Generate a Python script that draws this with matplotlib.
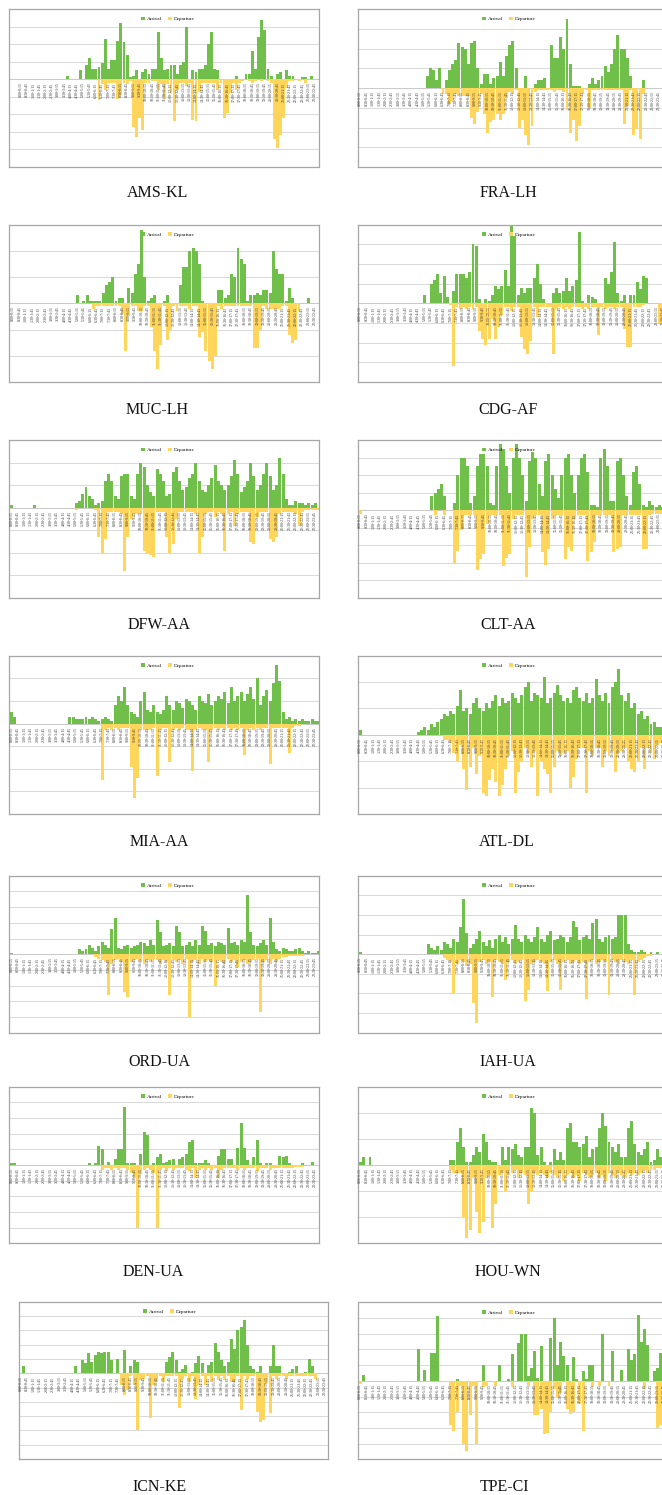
import numpy as np
import matplotlib
matplotlib.use("Agg")
import matplotlib.pyplot as plt
from matplotlib.patches import Patch

FIG_W, FIG_H = 662, 1495
GREEN = "#70BF4A"
YELLOW = "#FFD55C"
SERIF = ["Liberation Serif", "DejaVu Serif"]

# 15-minute slot labels, 0:00-0:15 ... 23:45-24:00
slot_labels = []
for k in range(96):
    h0, m0 = divmod(15 * k, 60)
    h1, m1 = divmod(15 * k + 15, 60)
    slot_labels.append(f"{h0}:{m0:02d}-{h1}:{m1:02d}")

# Flights per 15-minute slot (10 = one gridline step)
ams_arr = [0,0,0,0,0,0,0,0,0,0,0,0,0,0,0,2,0,0,0,5,0,8,12,6,
           6,7,9,23,6,11,11,22,32,21,14,1,2,5,0,4,6,3,6,6,27,12,5,6,
           8,8,3,8,10,30,0,5,4,6,6,8,20,27,6,5,0,0,0,0,0,2,0,0,
           3,3,16,6,24,34,28,6,2,0,3,4,0,5,2,2,0,0,1,1,0,2,0,0]
ams_dep = [0]*24 + \
          [0,12,3,6,2,2,2,11,9,2,3,1,27,33,22,29,2,2,1,1,6,3,11,3,
           8,24,6,2,2,4,2,23,24,7,2,2,2,2,2,6,2,22,19,8,2,6,2,1,
           0,1,2,1,0,1,0,1,2,34,39,32,22,5,1,1,0,1,0,2,0,0,0,0]

fra_arr = [0]*21 + [6,10,9] + \
          [4,10,0,4,9,12,14,23,21,20,12,23,24,10,2,7,7,2,5,6,13,6,16,22,
           24,10,0,0,6,0,0,2,4,4,5,0,22,15,15,26,20,35,12,1,1,1,0,0,
           2,5,2,4,6,11,8,12,20,27,20,20,15,6,0,0,0,4,0,0,0,0,0,0]
fra_dep = [0]*24 + \
          [0,0,3,3,8,7,3,4,4,4,4,15,18,12,3,13,23,17,16,13,16,13,5,2,
           3,1,20,16,24,29,19,2,1,1,1,1,1,2,1,1,2,11,23,16,27,19,3,1,
           10,1,1,1,1,1,1,1,1,1,1,18,9,1,24,21,26,3,0,0,0,0,0,0]

muc_arr = [0]*20 + [3,0,1,3] + \
          [1,1,1,1,4,7,8,10,1,2,2,0,6,4,11,15,28,10,1,2,3,0,0,1,
           3,0,0,0,7,14,14,20,21,20,15,1,0,0,0,0,5,5,2,3,11,10,21,17,
           15,1,3,3,4,3,5,5,4,20,13,11,11,1,6,2,0,0,0,0,2,0,0,0]
muc_dep = [0]*24 + \
          [0,2,1,1,1,1,1,1,1,1,4,18,5,1,1,3,3,1,1,9,18,25,16,1,
           14,10,1,3,1,1,1,2,1,1,13,11,18,22,25,20,1,2,1,1,1,1,1,1,
           1,1,1,17,17,10,1,2,2,2,2,2,1,1,12,15,14,3,0,0,0,0,0,0]

cdg_arr = [0]*20 + [4,0,10,12] + \
          [15,5,14,3,0,6,15,15,15,13,16,30,29,2,0,2,1,4,9,7,9,17,9,40,
           34,4,8,5,8,8,13,20,10,2,0,0,5,8,5,6,13,6,9,12,36,1,0,4,
           3,2,0,0,13,10,16,31,5,1,4,0,4,4,11,7,14,13,0,0,0,0,0,0]
cdg_dep = [0]*24 + \
          [0,0,0,0,1,32,2,3,2,3,2,3,2,14,18,21,18,8,18,12,6,2,2,4,
           2,2,17,23,26,19,2,7,2,2,2,2,26,3,2,3,2,3,2,2,2,3,2,3,
           2,2,16,2,3,2,2,3,2,2,13,22,22,2,2,2,1,0,0,0,0,10,10,10]

dfw_arr = [1,0,0,0,0,0,0,1,0,0,0,0,0,0,0,0,0,0,0,0,2,3,6,9,
           5,4,1,2,3,12,15,12,5,4,14,15,15,5,4,15,20,18,10,7,5,17,15,12,
           5,6,16,18,12,8,9,13,15,20,12,8,7,10,13,19,12,10,8,10,14,21,15,7,
           9,12,20,14,8,10,15,20,14,8,10,22,15,4,1,1,3,2,2,1,2,1,2,0]
dfw_dep = [0]*20 + [1,0,0,0] + \
          [0,0,1,13,20,14,2,2,2,2,3,28,13,5,3,3,3,19,20,21,22,2,2,2,
           13,20,16,5,2,2,2,2,2,3,20,13,3,2,2,4,2,3,19,3,2,8,3,2,
           2,2,15,16,4,2,2,2,14,15,13,3,2,2,2,2,3,8,2,1,1,1,1,1]

clt_arr = [0]*22 + [8,10] + \
          [12,15,8,0,0,4,20,30,30,25,4,8,25,32,32,25,4,3,25,38,35,25,10,30,
           38,30,20,5,28,33,30,15,8,28,32,20,12,7,20,30,32,20,10,20,30,32,22,3,
           3,2,30,35,25,5,5,28,30,20,8,3,22,25,15,3,2,5,3,2,3,2,1,1]
clt_dep = [2] + [0]*22 + [3] + \
          [0,0,3,0,0,30,23,11,3,3,3,3,34,28,25,8,3,3,3,3,32,27,25,5,
           3,3,3,38,21,5,3,3,24,31,22,5,3,3,3,28,21,23,5,3,3,3,29,24,
           18,3,3,3,3,3,24,22,21,3,3,3,3,3,3,22,22,3,2,2,2,2,2,2]

mia_arr = [5,3,0,0,0,0,0,0,0,0,0,0,0,0,0,0,0,0,3,3,2,2,2,3,
           2,3,2,1,2,3,2,1,8,12,10,16,8,5,4,3,10,14,6,5,8,5,4,6,
           12,8,6,10,9,7,11,10,8,6,12,10,9,13,8,10,12,11,14,9,16,10,12,14,
           10,13,16,11,20,8,12,15,10,18,26,19,5,2,3,1,2,1,2,1,1,2,1,1]
mia_dep = [0]*24 + \
          [0,0,0,0,25,3,2,3,2,3,2,2,2,19,33,24,3,3,3,3,2,23,3,2,
           2,17,3,2,3,2,3,3,21,3,2,3,3,17,3,2,3,2,3,2,3,2,3,2,
           14,3,2,3,2,3,2,2,18,2,2,2,2,2,13,2,1,1,0,0,0,0,0,0]

atl_arr = [2,0,0,0,0,0,0,0,0,0,0,0,0,0,0,0,0,0,1,2,3,2,4,3,
           5,6,8,7,9,8,11,17,9,10,8,12,14,10,9,12,10,13,15,11,14,12,13,16,
           14,12,15,18,20,13,16,15,14,22,12,14,16,19,15,13,14,12,17,18,14,13,16,12,
           14,21,15,13,16,12,18,20,25,15,13,16,10,12,8,9,6,7,4,5,3,3,2,2]
atl_dep = [0]*24 + \
          [0,0,2,2,3,7,10,4,13,21,12,5,15,8,22,23,17,13,18,23,19,13,8,6,
           22,14,10,5,7,12,6,23,10,13,15,22,12,6,8,7,6,20,16,9,5,5,22,6,
           8,5,5,12,6,8,6,14,7,6,5,10,13,14,10,5,13,5,7,9,4,3,3,2]

ord_arr = [1,0,0,0,0,0,0,0,0,0,0,0,0,0,0,0,0,0,0,0,0,3,2,3,
           6,4,2,5,8,6,4,16,23,4,3,5,6,4,5,6,8,7,5,9,6,22,14,5,
           6,7,5,18,14,5,6,8,5,9,6,18,15,6,7,5,8,7,6,17,7,8,6,9,
           8,38,14,6,5,7,9,6,23,8,3,2,4,3,2,2,3,4,2,1,2,1,1,2]
ord_dep = [0]*24 + \
          [0,0,2,3,4,5,26,6,4,3,5,24,27,5,4,3,5,6,4,5,3,4,6,4,
           5,26,4,5,4,6,3,40,5,4,6,3,5,4,5,20,4,5,6,3,5,4,8,5,
           4,6,5,4,3,37,5,4,6,3,5,3,2,2,1,1,1,1,1,0,0,0,0,0]

iah_arr = [1,0,0,0,0,0,0,0,0,0,0,0,0,0,0,0,0,0,0,0,0,5,3,2,
           4,2,6,5,3,8,6,14,28,11,3,5,8,12,6,4,7,3,8,10,6,9,5,8,
           15,8,6,10,8,6,9,14,8,6,10,12,7,8,10,9,6,9,17,14,7,9,10,8,
           16,18,8,6,9,10,8,9,20,20,20,5,2,1,1,2,1,0,1,0,1,0,0,1]
iah_dep = [0]*24 + \
          [0,0,2,3,4,20,5,3,4,6,5,25,35,4,3,5,4,22,3,4,5,13,4,3,
           5,4,3,24,18,5,4,3,4,5,19,4,3,5,18,4,3,5,4,3,5,4,23,4,
           3,5,4,3,4,21,3,4,5,3,4,5,3,21,4,3,2,1,1,0,0,0,0,0]

den_arr = [1,1] + [0]*22 + \
          [1,0,1,12,10,0,2,0,4,10,10,37,1,1,1,0,7,21,19,0,1,5,7,1,
           2,3,4,0,4,5,7,15,16,1,1,1,3,1,0,0,6,10,10,4,4,0,11,27,
           11,3,0,5,16,1,0,1,1,0,0,6,5,6,1,0,0,0,1,0,0,2,0,0]
den_dep = [0]*24 + \
          [0,0,0,0,3,2,2,3,2,3,2,2,3,5,8,40,6,3,2,3,5,40,3,2,
           4,2,3,2,2,2,3,4,2,8,3,2,3,2,3,2,8,3,2,2,2,2,3,2,
           3,2,2,2,4,2,2,2,3,2,2,2,2,2,2,2,1,1,1,0,0,0,0,0]

hou_arr = [1,3,0,3] + [0]*20 + \
          [0,0,0,0,2,2,9,14,7,1,1,4,7,5,12,9,2,1,1,0,7,2,7,6,
           8,4,3,7,7,22,20,4,7,1,0,1,6,2,5,2,14,16,9,9,7,8,11,3,
           6,7,14,20,15,9,7,5,8,3,3,14,17,8,5,4,6,9,1,2,6,3,3,3]
hou_dep = [0]*24 + \
          [0,0,0,0,2,3,3,3,20,28,25,5,18,26,22,5,4,24,15,4,3,10,4,3,
           2,5,3,4,15,10,3,4,3,4,5,3,4,5,3,6,4,3,5,4,6,3,4,5,
           4,3,5,4,6,3,4,5,3,4,5,3,4,3,4,3,2,3,2,2,1,1,1,1]

icn_arr = [0,5,0,0,0,0,0,0,0,0,0,0,0,0,0,0,0,5,0,9,7,14,8,13,
           15,14,15,15,9,0,10,0,16,0,5,9,8,0,0,0,0,0,0,0,0,8,11,15,
           9,1,3,6,0,1,7,12,7,0,6,8,21,15,9,5,8,24,17,30,32,37,20,5,
           3,1,5,0,0,5,20,5,5,0,0,1,3,5,0,0,1,10,5,0,0,0,0,0]
icn_dep = [0]*24 + \
          [0,0,0,0,0,0,0,8,15,12,2,8,40,5,4,2,31,8,6,2,6,2,2,2,
           2,24,4,2,6,2,18,8,2,8,2,6,2,5,2,5,2,6,6,2,26,2,4,2,
           2,27,34,33,7,28,2,4,2,2,4,2,2,2,2,2,2,2,2,4,0,0,0,0]

tpe_arr = [0,4,0,0,0,0,0,0,0,0,0,0,0,0,0,0,0,0,20,0,7,0,18,18,
           41,0,0,0,0,0,1,0,0,0,0,0,0,0,10,0,0,0,0,10,0,0,1,17,
           0,24,30,30,3,8,19,2,22,0,0,27,40,10,25,16,10,0,15,1,0,6,1,10,
           10,0,0,30,0,0,19,0,0,7,0,20,13,17,42,25,33,23,0,6,8,18,10,15]
tpe_dep = [2,0,1,0,0,0,0,0,0,0,0,0,1,0,0,0,0,0,1,0,0,0,0,0,
           0,0,1,1,28,32,20,3,40,45,22,3,40,0,4,3,0,0,3,0,0,0,0,4,
           0,0,0,0,3,0,22,22,18,34,33,20,5,11,8,0,18,21,20,0,15,32,0,0,
           4,0,3,0,0,3,0,0,0,0,0,0,0,0,0,0,5,0,0,0,30,28,37,30]

# name, arrivals, departures, frame (px: left, top, right, bottom),
# centre of first slot (px), slot pitch (px), gridlines above / below zero,
# caption position (px), legend centre x (px)
panels = [
    ("AMS-KL", ams_arr, ams_dep, (9, 9, 319, 167), 20.7, 3.13, 4, 5, (158, 193), 168),
    ("FRA-LH", fra_arr, fra_dep, (358, 9, 668, 167), 360.3, 3.18, 4, 4, (508, 193), 509),
    ("MUC-LH", muc_arr, muc_dep, (9, 224.5, 319, 382), 13.3, 3.21, 3, 3, (157, 410), 168),
    ("CDG-AF", cdg_arr, cdg_dep, (358, 224.5, 668, 382), 360.3, 3.22, 4, 4, (508, 410), 509),
    ("DFW-AA", dfw_arr, dfw_dep, (9, 440, 319, 598), 11.7, 3.23, 3, 4, (159, 625), 168),
    ("CLT-AA", clt_arr, clt_dep, (358, 440, 668, 598), 360.3, 3.25, 4, 5, (508, 625), 509),
    ("MIA-AA", mia_arr, mia_dep, (9, 655.7, 319, 814), 11.7, 3.23, 3, 4, (159, 842), 168),
    ("ATL-DL", atl_arr, atl_dep, (358, 655.7, 668, 814), 360.3, 3.23, 3, 3, (507, 842), 509),
    ("ORD-UA", ord_arr, ord_dep, (9, 875.7, 319, 1032.7), 11.7, 3.23, 5, 5, (159, 1062), 168),
    ("IAH-UA", iah_arr, iah_dep, (358, 875.7, 668, 1032.7), 360.3, 3.23, 4, 4, (508, 1062), 509),
    ("DEN-UA", den_arr, den_dep, (9, 1086.7, 319, 1243.3), 11.7, 3.23, 5, 5, (153, 1272), 168),
    ("HOU-WN", hou_arr, hou_dep, (358, 1086.7, 668, 1243.3), 360.3, 3.23, 3, 3, (508, 1272), 509),
    ("ICN-KE", icn_arr, icn_dep, (19, 1301.7, 328, 1459), 20.7, 3.24, 5, 6, (160, 1487), 170),
    ("TPE-CI", tpe_arr, tpe_dep, (358, 1302.3, 668, 1459.3), 360.3, 3.23, 5, 5, (504, 1487), 509),
]

fig = plt.figure(figsize=(FIG_W / 100, FIG_H / 100), dpi=100)
fig.patch.set_facecolor("white")

slots = np.arange(96)
for (name, arr, dep, box, cat0, step, n_up, n_down, cap, leg_x) in panels:
    x0, y0, x1, y1 = box
    ax = fig.add_axes([x0 / FIG_W, 1 - y1 / FIG_H, (x1 - x0) / FIG_W, (y1 - y0) / FIG_H])
    ax.bar(slots, arr, width=0.92, color=GREEN, linewidth=0, zorder=2)
    ax.bar(slots, -np.asarray(dep), width=0.92, color=YELLOW, linewidth=0, zorder=2)
    ax.set_xlim((x0 - cat0) / step, (x1 - cat0) / step)
    ax.set_ylim(-10 * n_down, 10 * n_up)
    ax.set_yticks(range(-10 * n_down, 10 * n_up + 1, 10))
    ax.set_xticks([])
    ax.tick_params(left=False, labelleft=False)
    ax.grid(axis="y", color="#D9D9D9", linewidth=0.7)
    ax.set_axisbelow(True)
    for s in ax.spines.values():
        s.set_color("#A6A6A6")
        s.set_linewidth(0.9)
    ax.axhline(0, color="#C8C8C8", linewidth=0.6, zorder=1)
    for k in range(0, 96, 2):
        ax.annotate(slot_labels[k], (k, 0), xytext=(0, -2.4), textcoords="offset points",
                    rotation=90, ha="center", va="top", fontsize=2.8, family=SERIF,
                    color="#333333", zorder=5)
    handles = [Patch(facecolor=GREEN, label="Arrival"),
               Patch(facecolor=YELLOW, label="Departure")]
    ax.legend(handles=handles, loc="center",
              bbox_to_anchor=((leg_x - x0) / (x1 - x0), 1 - 10 / (y1 - y0)),
              ncol=2, frameon=False, prop={"family": SERIF, "size": 3.7},
              handlelength=0.7, handleheight=0.7, handletextpad=0.4,
              columnspacing=1.2, borderpad=0, borderaxespad=0)
    fig.text(cap[0] / FIG_W, 1 - cap[1] / FIG_H, name, ha="center", va="center",
             fontsize=11.5, family=SERIF, color="#111111")

fig.savefig("out.png", dpi=100, facecolor="white")
